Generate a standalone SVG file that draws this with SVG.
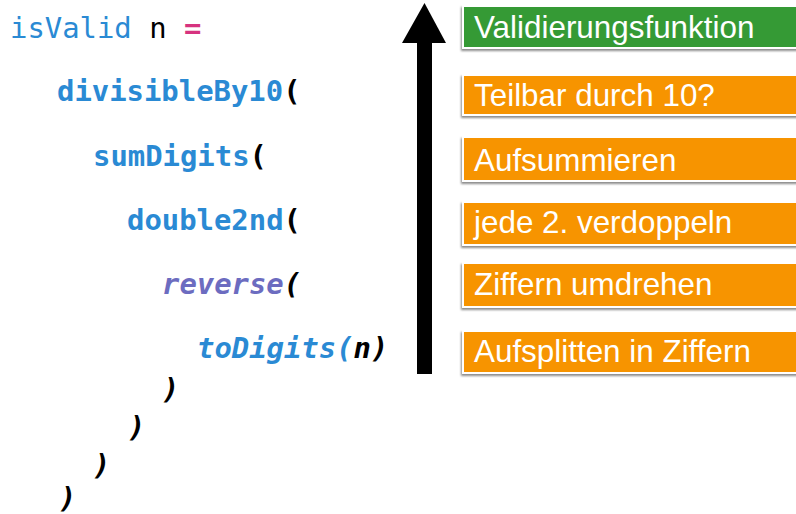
<svg xmlns="http://www.w3.org/2000/svg" width="796" height="514" viewBox="0 0 796 514">
  <defs>
    <filter id="shadow" x="-5%" y="-30%" width="110%" height="170%">
      <feDropShadow dx="-1" dy="2" stdDeviation="1" flood-color="#000" flood-opacity="0.45"/>
    </filter>
  </defs>
  <style>
    .code { font-family: "DejaVu Sans Mono", "Liberation Mono", monospace; font-size: 28.9px; }
    .b { font-weight: bold; }
    .it { font-style: italic; }
    .fn { fill: #2a8ad4; }
    .rev { fill: #6c6cc0; }
    .blk { fill: #000; }
    .op { fill: #d6337f; }
    .box { stroke: #fff; stroke-width: 2; filter: url(#shadow); }
    .green { fill: #359a35; }
    .orange { fill: #f79400; }
    .label { font-family: "Liberation Sans", Arial, sans-serif; font-size: 31.4px; fill: #fff; }
  </style>

  <!-- nested Haskell-style code -->
  <g id="code">
    <text class="code" x="10" y="38"><tspan class="fn">isValid</tspan><tspan class="blk"> n </tspan><tspan class="op b">=</tspan></text>
    <text class="code b" x="57" y="101"><tspan class="fn">divisibleBy10</tspan><tspan class="blk">(</tspan></text>
    <text class="code b" x="93" y="166"><tspan class="fn">sumDigits</tspan><tspan class="blk">(</tspan></text>
    <text class="code b" x="127" y="230"><tspan class="fn">double2nd</tspan><tspan class="blk">(</tspan></text>
    <text class="code b it" x="162" y="294"><tspan class="rev">reverse</tspan><tspan class="blk">(</tspan></text>
    <text class="code b it" x="197" y="358"><tspan class="fn">toDigits(</tspan><tspan class="blk">n)</tspan></text>
    <text class="code b it blk" x="162" y="399">)</text>
    <text class="code b it blk" x="128" y="437">)</text>
    <text class="code b it blk" x="93" y="475">)</text>
    <text class="code b it blk" x="59" y="508">)</text>
  </g>

  <!-- upward arrow: evaluation order -->
  <g id="connectors">
    <rect x="417" y="40" width="15" height="334" fill="#000"/>
    <polygon points="424.5,3 402,43 446,43" fill="#000"/>
  </g>

  <!-- step labels -->
  <g id="step-validate">
    <rect class="box green" x="463" y="6" width="345" height="42"/>
    <text class="label" x="474" y="38">Validierungsfunktion</text>
  </g>
  <g id="step-divisible">
    <rect class="box orange" x="463" y="75" width="345" height="40"/>
    <text class="label" x="474" y="106">Teilbar durch 10?</text>
  </g>
  <g id="step-sum">
    <rect class="box orange" x="463" y="137" width="345" height="44"/>
    <text class="label" x="474" y="171">Aufsummieren</text>
  </g>
  <g id="step-double">
    <rect class="box orange" x="463" y="202" width="345" height="43"/>
    <text class="label" x="474" y="233">jede 2. verdoppeln</text>
  </g>
  <g id="step-reverse">
    <rect class="box orange" x="463" y="263" width="345" height="44"/>
    <text class="label" x="474" y="295">Ziffern umdrehen</text>
  </g>
  <g id="step-split">
    <rect class="box orange" x="463" y="331" width="345" height="42"/>
    <text class="label" x="474" y="362">Aufsplitten in Ziffern</text>
  </g>
</svg>
